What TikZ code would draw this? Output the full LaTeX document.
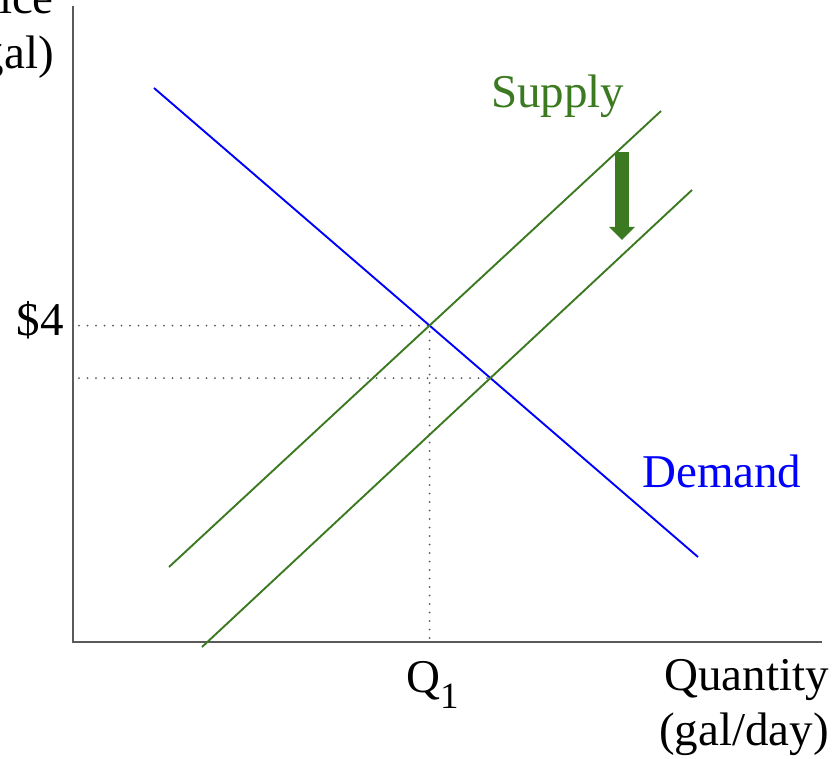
\documentclass[tikz,border=0pt]{standalone}
\usepackage{fontspec}
\setmainfont{Liberation Serif}
\usetikzlibrary{arrows.meta, positioning}

\definecolor{supplygreen}{RGB}{59,122,33}
\definecolor{axisgray}{RGB}{90,90,90}

\begin{document}
\begin{tikzpicture}[
    x=1pt, y=-1pt,
    >=Latex, % Set default arrow tip style
    axis/.style={axisgray, line width=2pt},
    curve/.style={line width=1.9pt},
    guide/.style={axisgray, line width=2pt, line cap=round, dash pattern=on 0pt off 8.5pt},
    lbl/.style={inner sep=0pt, font=\fontsize{47}{55}\selectfont}
]
    \useasboundingbox (0,0) rectangle (840,759);

    % Axes
    \coordinate (O)    at (73,642);
    \coordinate (Ytop) at (73,6);
    \coordinate (Xend) at (822,642);
    \draw[axis] (Ytop) -- (O) -- (Xend);

    % Define curve end points
    \coordinate (Dstart)  at (154,88);
    \coordinate (Dend)    at (698,557);
    \coordinate (S1start) at (169,567);
    \coordinate (S1end)   at (661,111);
    \coordinate (S2start) at (202,647);
    \coordinate (S2end)   at (692,190);

    % Demand and the two supply curves
    \draw[curve, blue] (Dstart) -- (Dend);
    \draw[curve, supplygreen] (S1start) -- (S1end);
    \draw[curve, supplygreen] (S2start) -- (S2end);

    % Equilibria
    \coordinate (E1) at (intersection of Dstart--Dend and S1start--S1end);
    \coordinate (E2) at (intersection of Dstart--Dend and S2start--S2end);
    \coordinate (P1) at (O |- E1);
    \coordinate (P2) at (O |- E2);
    \coordinate (Q1) at (E1 |- O);

    % Dotted guides
    \draw[guide] ([xshift=6pt]P1) -- (E1) -- ([yshift=-4pt]Q1);
    \draw[guide] ([xshift=6pt]P2) -- (E2);

    % Shift of supply (thick arrow)
    \coordinate (Atop) at (622,152);
    \coordinate (Abot) at (622,240);
    \draw[-{Triangle[width=25pt, length=13pt]}, supplygreen, line width=14pt] (Atop) -- (Abot);

    % Labels
    \node[lbl, anchor=east, align=right] (price) at (54,31) {Price\\(\$/gal)};
    \node[lbl, anchor=base east] (four) at (64,335) {\$4};
    \node[lbl, anchor=base west] (qone) at (406,692) {Q\raisebox{-16pt}{\fontsize{37}{37}\selectfont 1}};
    \node[lbl, anchor=east, align=right] (quantity) at (829,708) {Quantity\\(gal/day)};
    \node[lbl, anchor=base west, supplygreen] (supply) at (491,108) {Supply};
    \node[lbl, anchor=base west, blue] (demand) at (642,487) {Demand};

\end{tikzpicture}
\end{document}
